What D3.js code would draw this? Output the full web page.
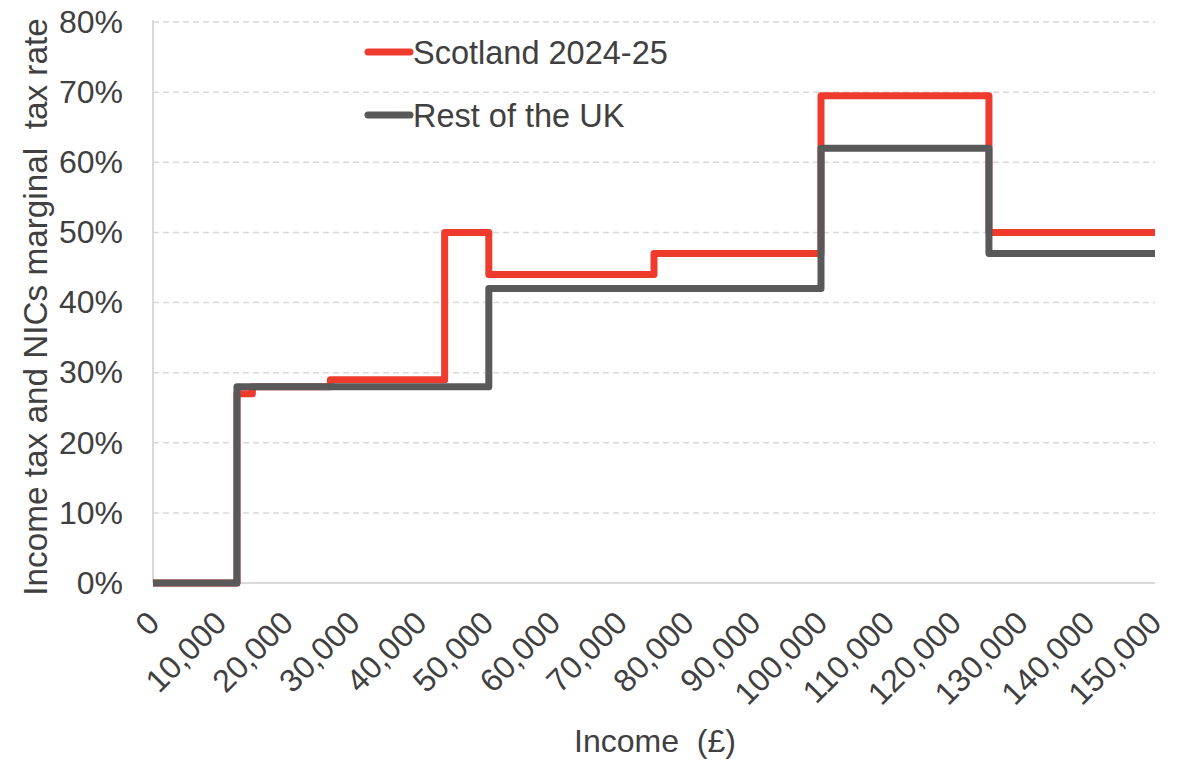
<!DOCTYPE html>
<html>
<head>
<meta charset="utf-8">
<script src="https://cdn.jsdelivr.net/npm/d3@7"></script>
<style>
  html, body { margin: 0; padding: 0; background: #fff; }
  text { font-family: "Liberation Sans", Arial, sans-serif; fill: #404040; }
</style>
</head>
<body>
<div id="chart"></div>
<script>
// income thresholds (£) where the marginal rate changes, and the rate that applies from there on
var scotlandIncome = [0, 12570, 14876, 26561, 43662, 50270, 75000, 100000, 125140, 150000];
var scotlandRate   = [0, 27, 28, 29, 50, 44, 47, 69.5, 50, 50];
var ukIncome = [0, 12570, 50270, 100000, 125140, 150000];
var ukRate   = [0, 28, 42, 62, 47, 47];

var xTicks = d3.range(0, 150001, 10000);
var yTicks = [0, 10, 20, 30, 40, 50, 60, 70, 80];
var seriesNames = ['Scotland 2024-25', 'Rest of the UK'];
var seriesColours = ['#ee3b2e', '#595959'];

var W = 1179, H = 762;
var plotLeft = 153, plotRight = 1155, plotTop = 22, plotBottom = 583;

var svg = d3.select('#chart').append('svg')
  .attr('width', W)
  .attr('height', H);

var x = d3.scaleLinear().domain([0, 150000]).range([plotLeft, plotRight]);
var y = d3.scaleLinear().domain([0, 80]).range([plotBottom, plotTop]);

// gridlines
svg.append('g')
  .selectAll('line')
  .data(yTicks.slice(1))
  .enter()
  .append('line')
  .attr('x1', plotLeft)
  .attr('x2', plotRight)
  .attr('y1', function(d) { return y(d); })
  .attr('y2', function(d) { return y(d); })
  .attr('stroke', '#d9d9d9')
  .attr('stroke-width', 1.5)
  .attr('stroke-dasharray', '6,4');

// axis lines
svg.append('line')
  .attr('x1', plotLeft).attr('x2', plotLeft)
  .attr('y1', plotTop - 2).attr('y2', plotBottom)
  .attr('stroke', '#d9d9d9').attr('stroke-width', 2);
svg.append('line')
  .attr('x1', plotLeft).attr('x2', plotRight)
  .attr('y1', plotBottom).attr('y2', plotBottom)
  .attr('stroke', '#d9d9d9').attr('stroke-width', 2);

// y labels
var yAxis = d3.axisLeft(y).tickValues(yTicks).tickSize(0).tickPadding(0)
  .tickFormat(function(d) { return d + '%'; });
var gy = svg.append('g').attr('transform', 'translate(123,0)').call(yAxis);
gy.select('.domain').remove();
gy.selectAll('text')
  .attr('font-size', 32)
  .attr('font-family', '"Liberation Sans", Arial, sans-serif')
  .attr('fill', '#404040');

// x labels, rotated
var xAxis = d3.axisBottom(x).tickValues(xTicks).tickSize(0).tickPadding(0)
  .tickFormat(d3.format(','));
var gx = svg.append('g').attr('transform', 'translate(0,' + plotBottom + ')').call(xAxis);
gx.select('.domain').remove();
gx.selectAll('text')
  .attr('font-size', 32)
  .attr('font-family', '"Liberation Sans", Arial, sans-serif')
  .attr('fill', '#404040')
  .attr('text-anchor', 'end')
  .attr('dy', '0.35em')
  .attr('y', 0)
  .attr('transform', 'translate(0,34) rotate(-45)');

// axis titles
svg.append('text')
  .attr('x', 655)
  .attr('y', 752)
  .attr('text-anchor', 'middle')
  .attr('font-size', 32)
  .style('white-space', 'pre')
  .text('Income  (£)');
svg.append('text')
  .attr('transform', 'translate(47,307) rotate(-90)')
  .attr('text-anchor', 'middle')
  .attr('font-size', 33.3)
  .style('white-space', 'pre')
  .text('Income tax and NICs marginal  tax rate');

// step lines
var line = d3.line()
  .x(function(d) { return x(d[0]); })
  .y(function(d) { return y(d[1]); })
  .curve(d3.curveStepAfter);

var series = [
  d3.zip(scotlandIncome, scotlandRate),
  d3.zip(ukIncome, ukRate)
];

svg.selectAll('path.series')
  .data(series)
  .enter()
  .append('path')
  .attr('class', 'series')
  .attr('d', line)
  .attr('fill', 'none')
  .attr('stroke', function(d, i) { return seriesColours[i]; })
  .attr('stroke-width', 7)
  .attr('stroke-linejoin', 'round');

// legend
var legend = svg.selectAll('g.legend')
  .data(seriesNames)
  .enter()
  .append('g')
  .attr('class', 'legend')
  .attr('transform', function(d, i) { return 'translate(368,' + (52 + i * 63) + ')'; });
legend.append('line')
  .attr('x1', 0).attr('x2', 42)
  .attr('stroke', function(d, i) { return seriesColours[i]; })
  .attr('stroke-width', 7)
  .attr('stroke-linecap', 'round');
legend.append('text')
  .attr('x', 45)
  .attr('dy', '0.36em')
  .attr('font-size', 32.5)
  .text(function(d) { return d; });
</script>
</body>
</html>
